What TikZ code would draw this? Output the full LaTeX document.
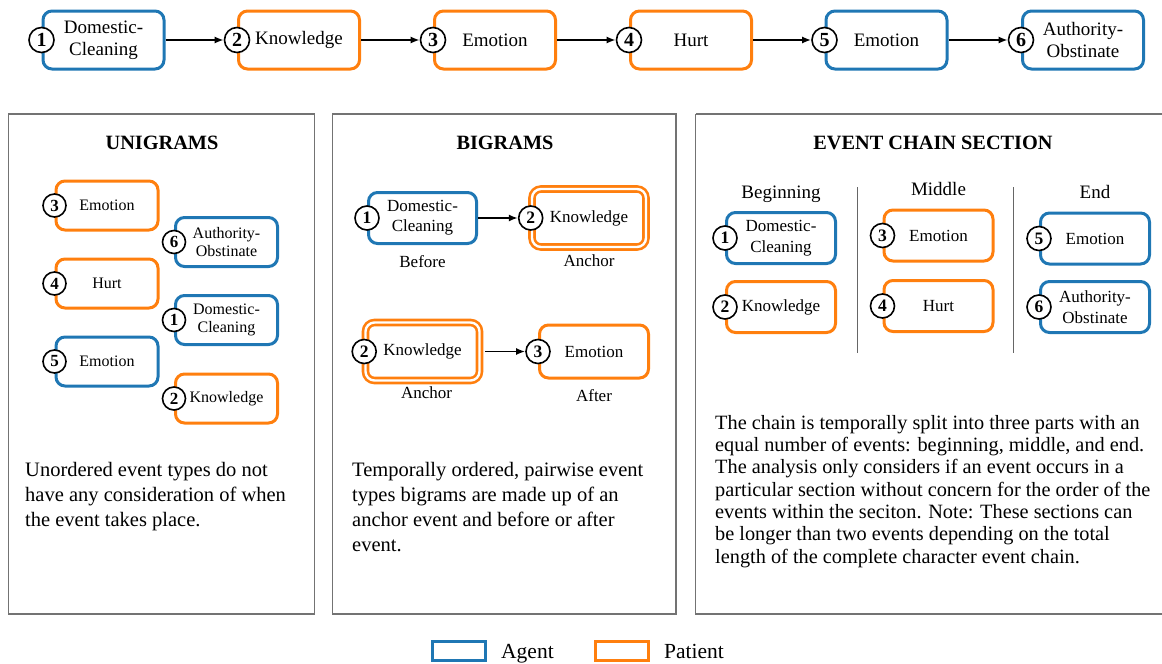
\documentclass[tikz,border=0pt]{standalone}
\usepackage{fontspec}
\setmainfont{Liberation Serif}
\usetikzlibrary{arrows.meta,positioning}
\definecolor{agentblue}{HTML}{1F77B4}
\definecolor{patientorange}{HTML}{FF7F0E}
\newcommand{\evnode}[5][]{\node[#1] (#2) at #3 {#5};\node[evnum] (#2-n) at (#2.west) {#4};}
\tikzset{
  evbox/.style={draw, rounded corners=9pt, line width=3pt, align=center, inner sep=0pt},
  evagent/.style={evbox, draw=agentblue},
  evpatient/.style={evbox, draw=patientorange},
  evanchor/.style={evpatient, line width=2.6pt, double=white, double distance=2.4pt},
  evnum/.style={circle, draw, line width=1.6pt, fill=white, inner sep=0pt, minimum size=25pt, font=\bfseries\fontsize{20}{20}\selectfont},
  evarrow/.style={-{Latex[length=9pt,width=7pt]}, line width=1.8pt},
  panel/.style={draw=black!55, line width=1.3pt},
  divider/.style={draw=black!60, line width=1pt},
  paneltitle/.style={anchor=base, font=\bfseries\fontsize{20.3}{24}\selectfont},
  paneltext/.style={anchor=north west, align=left, inner sep=0pt, font=\fontsize{20.5}{25}\selectfont},
  sublabel/.style={inner sep=0pt, font=\fontsize{17}{20}\selectfont},
  colhead/.style={anchor=base, inner sep=0pt, font=\fontsize{19}{22}\selectfont},
  legbox/.style={draw, line width=3pt, minimum width=53pt, minimum height=19pt, inner sep=0pt},
  legtext/.style={inner sep=0pt, text depth=0pt, font=\fontsize{21.5}{24}\selectfont},
}

\begin{document}
\begin{tikzpicture}[x=1pt, y=-1pt]
\useasboundingbox (0,0) rectangle (1162,664);

% full chain
\begin{scope}[topev/.style={minimum width=121pt, minimum height=58pt, font=\fontsize{19}{22.3}\selectfont}]
\evnode[evagent,topev]{t1}{(103.5,40)}{1}{Domestic-\\Cleaning}
\evnode[evpatient,topev]{t2}{(299,40)}{2}{Knowledge}
\evnode[evpatient,topev]{t3}{(495,40)}{3}{Emotion}
\evnode[evpatient,topev]{t4}{(691,40)}{4}{Hurt}
\evnode[evagent,topev]{t5}{(886.5,40)}{5}{Emotion}
\evnode[evagent,topev]{t6}{(1083,40)}{6}{Authority-\\Obstinate}
\foreach \a/\b in {t1/t2,t2/t3,t3/t4,t4/t5,t5/t6}
  \draw[evarrow] (\a.east) -- (\b-n.west);
\end{scope}

% unigrams
\draw[panel] (8.5,114) rectangle (314.5,614);
\node[paneltitle] (unititle) at (162,149) {UNIGRAMS};
\begin{scope}[evnum/.append style={minimum size=23pt, font=\bfseries\fontsize{17}{17}\selectfont},
  uniev/.style={minimum width=102pt, minimum height=49pt, font=\fontsize{16}{18.3}\selectfont}]
\evnode[evpatient,uniev]{u3}{(107,205.5)}{3}{Emotion}
\evnode[evagent,uniev]{u6}{(226.5,242)}{6}{Authority-\\Obstinate}
\evnode[evpatient,uniev]{u4}{(107,283.5)}{4}{Hurt}
\evnode[evagent,uniev]{u1}{(226.5,320)}{1}{Domestic-\\Cleaning}
\evnode[evagent,uniev]{u5}{(107,361.5)}{5}{Emotion}
\evnode[evpatient,uniev]{u2}{(226.5,398.5)}{2}{Knowledge}
\end{scope}
\node[paneltext] (unitext) at (25,462) {Unordered event types do not\\have any consideration of when\\the event takes place.};

% bigrams
\draw[panel] (332.5,114) rectangle (676,614);
\node[paneltitle] (bititle) at (505,149) {BIGRAMS};
\begin{scope}[evnum/.append style={minimum size=24pt, font=\bfseries\fontsize{17.5}{17.5}\selectfont},
  biev/.style={minimum width=108pt, minimum height=51pt, font=\fontsize{17}{20}\selectfont},
  bian/.style={minimum width=114pt, minimum height=58pt, font=\fontsize{17}{20}\selectfont}]
\evnode[evagent,biev]{b1}{(422.5,218)}{1}{Domestic-\\Cleaning}
\evnode[evanchor,bian]{b2}{(589,218)}{2}{Knowledge}
\evnode[evanchor,bian]{b3}{(422.5,351.5)}{2}{Knowledge}
\evnode[evpatient,biev,minimum width=109pt, minimum height=53pt]{b4}{(594,351.5)}{3}{Emotion}
\draw[evarrow] (b1.east) -- (b2-n.west);
\draw[evarrow, shorten <=4pt] (b3.east) -- (b4-n.west);
\end{scope}
\node[sublabel, below=10pt of b1] (before) {Before};
\node[sublabel, below=6.5pt of b2] (anchor1) {Anchor};
\node[sublabel, below=4.5pt of b3, xshift=4pt] (anchor2) {Anchor};
\node[sublabel, below=9.5pt of b4] (after) {After};
\node[paneltext] (bitext) at (352,462) {Temporally ordered, pairwise event\\types bigrams are made up of an\\anchor event and before or after\\event.};

% sections of the chain
\draw[panel] (695.5,114) -- (1163,114) (695.5,114) -- (695.5,614) -- (1163,614);
\node[paneltitle] (sectitle) at (933,149) {EVENT CHAIN SECTION};
\node[colhead] (beginhead) at (781,198) {Beginning};
\node[colhead] (middlehead) at (938.5,195) {Middle};
\node[colhead] (endhead) at (1095,198) {End};
\coordinate (div1top) at (857,187);
\coordinate (div1bot) at (857,353);
\coordinate (div2top) at (1013,187);
\coordinate (div2bot) at (1013,353);
\draw[divider] (div1top) -- (div1bot);
\draw[divider] (div2top) -- (div2bot);
\begin{scope}[evnum/.append style={minimum size=24pt, font=\bfseries\fontsize{17.5}{17.5}\selectfont},
  secev/.style={minimum width=109pt, minimum height=51pt, font=\fontsize{17}{20.7}\selectfont}]
\evnode[evagent,secev]{s1}{(781,238)}{1}{Domestic-\\Cleaning}
\evnode[evpatient,secev]{s2}{(781,307)}{2}{Knowledge}
\evnode[evpatient,secev]{s3}{(938.5,235.5)}{3}{Emotion}
\evnode[evpatient,secev]{s4}{(938.5,306)}{4}{Hurt}
\evnode[evagent,secev]{s5}{(1095,238.5)}{5}{Emotion}
\evnode[evagent,secev]{s6}{(1095,307)}{6}{Authority-\\Obstinate}
\end{scope}
\node[paneltext, font=\fontsize{20.3}{22.3}\selectfont] (sectext) at (715,415) {The chain is temporally split into three parts with an\\equal number of events: beginning, middle, and end.\\The analysis only considers if an event occurs in a\\particular section without concern for the order of the\\events within the seciton. Note: These sections can\\be longer than two events depending on the total\\length of the complete character event chain.};

% legend
\node[legbox, draw=agentblue] (agentkey) at (459,651) {};
\node[legtext, right=14pt of agentkey] (agentlbl) {Agent};
\node[legbox, draw=patientorange] (patientkey) at (622,651) {};
\node[legtext, right=14pt of patientkey] (patientlbl) {Patient};
\end{tikzpicture}
\end{document}
